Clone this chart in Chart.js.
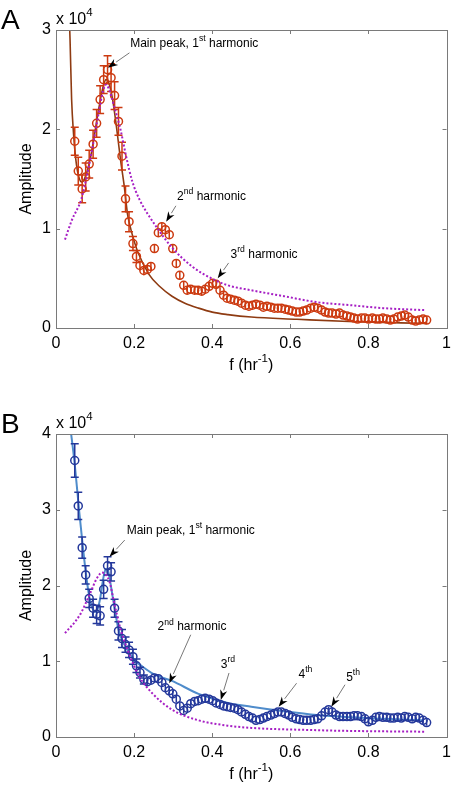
<!DOCTYPE html>
<html>
<head>
<meta charset="utf-8">
<script src="https://cdn.jsdelivr.net/npm/chart.js@4"></script>
<style>
body { margin: 0; background: #fff; }
canvas { position: absolute; left: 0; }
#chartA { top: 0; }
#chartB { top: 395px; }
</style>
</head>
<body>
<canvas id="chartA" width="457" height="395"></canvas>
<canvas id="chartB" width="457" height="392"></canvas>
<script>
// frequency grid of the measured spectra (hr^-1)
const freq = [
    0.048, 0.057, 0.067, 0.076, 0.085, 0.095, 0.104, 0.113, 0.122, 0.132,
    0.141, 0.150, 0.160, 0.169, 0.178, 0.187, 0.197, 0.206, 0.215, 0.225,
    0.234, 0.243, 0.252, 0.262, 0.271, 0.280, 0.290, 0.299, 0.308, 0.317,
    0.327, 0.336, 0.345, 0.355, 0.364, 0.373, 0.382, 0.392, 0.401, 0.410,
    0.420, 0.429, 0.438, 0.447, 0.457, 0.466, 0.475, 0.485, 0.494, 0.503,
    0.512, 0.522, 0.531, 0.540, 0.550, 0.559, 0.568, 0.577, 0.587, 0.596,
    0.605, 0.615, 0.624, 0.633, 0.642, 0.652, 0.661, 0.670, 0.680, 0.689,
    0.698, 0.707, 0.717, 0.726, 0.735, 0.745, 0.754, 0.763, 0.772, 0.782,
    0.791, 0.800, 0.810, 0.819, 0.828, 0.837, 0.847, 0.856, 0.865, 0.875,
    0.884, 0.893, 0.902, 0.912, 0.921, 0.930, 0.940, 0.949
];

// panel A, amplitude x 10^4
const ampA = [
    1.88, 1.58, 1.40, 1.52, 1.65, 1.85, 2.06, 2.30, 2.50, 2.60,
    2.52, 2.34, 2.08, 1.73, 1.30, 1.07, 0.85, 0.72, 0.63, 0.58,
    0.59, 0.62, 0.80, 0.96, 1.02, 0.99, 0.94, 0.80, 0.65, 0.53,
    0.43, 0.38, 0.39, 0.38, 0.38, 0.37, 0.39, 0.42, 0.45, 0.44,
    0.38, 0.33, 0.30, 0.29, 0.28, 0.27, 0.25, 0.23, 0.22, 0.23,
    0.24, 0.23, 0.21, 0.22, 0.21, 0.20, 0.20, 0.20, 0.19, 0.18,
    0.17, 0.16, 0.16, 0.17, 0.18, 0.20, 0.21, 0.20, 0.18, 0.16,
    0.15, 0.15, 0.14, 0.15, 0.13, 0.12, 0.11, 0.10, 0.09, 0.10,
    0.10, 0.09, 0.10, 0.09, 0.09, 0.10, 0.09, 0.08, 0.09, 0.11,
    0.12, 0.13, 0.11, 0.08, 0.07, 0.08, 0.09, 0.08
];
const errA = [
    0.14, 0.14, 0.14, 0.14, 0.14, 0.14, 0.14, 0.14, 0.14, 0.14,
    0.14, 0.14, 0.14, 0.14, 0.13, 0.10, 0.07, 0.06, 0.05, 0.05,
    0.04, 0.04, 0.04, 0.04, 0.04, 0.04, 0.04, 0.04, 0.04, 0.04,
    0.04, 0.04, 0.04, 0.04, 0.04, 0.04, 0.04, 0.04, 0.04, 0.04,
    0.03, 0.03, 0.03, 0.03, 0.03, 0.03, 0.03, 0.03, 0.03, 0.03,
    0.03, 0.03, 0.03, 0.03, 0.03, 0.03, 0.03, 0.03, 0.03, 0.03,
    0.03, 0.03, 0.03, 0.03, 0.03, 0.03, 0.03, 0.03, 0.03, 0.03,
    0.03, 0.03, 0.03, 0.03, 0.03, 0.03, 0.03, 0.03, 0.03, 0.03,
    0.03, 0.03, 0.03, 0.03, 0.03, 0.03, 0.03, 0.03, 0.03, 0.03,
    0.03, 0.03, 0.03, 0.03, 0.03, 0.03, 0.03, 0.03
];
// fitted curve (solid) and model curve (dotted), panel A
const fitAf = [0.030, 0.036, 0.040, 0.045, 0.050, 0.055, 0.060, 0.065, 0.070, 0.080, 0.090, 0.100, 0.110, 0.120, 0.128, 0.135, 0.145, 0.155, 0.165, 0.175, 0.183, 0.190, 0.196, 0.210, 0.238, 0.265, 0.297, 0.330, 0.365, 0.400, 0.440, 0.500, 0.617, 0.750, 0.950];
const fitAy = [3.60, 2.90, 2.30, 1.95, 1.72, 1.58, 1.50, 1.47, 1.48, 1.58, 1.75, 1.98, 2.22, 2.42, 2.50, 2.47, 2.30, 2.02, 1.70, 1.42, 1.15, 1.02, 0.93, 0.76, 0.54, 0.42, 0.32, 0.25, 0.20, 0.16, 0.135, 0.11, 0.088, 0.065, 0.045];
const modAf = [0.023, 0.040, 0.065, 0.080, 0.095, 0.110, 0.120, 0.128, 0.136, 0.149, 0.165, 0.180, 0.195, 0.213, 0.255, 0.297, 0.348, 0.398, 0.440, 0.500, 0.584, 0.668, 0.753, 0.837, 0.943];
const modAy = [0.89, 1.08, 1.30, 1.55, 1.85, 2.18, 2.38, 2.45, 2.40, 2.23, 2.00, 1.72, 1.48, 1.30, 1.03, 0.81, 0.62, 0.50, 0.43, 0.38, 0.32, 0.26, 0.23, 0.20, 0.18];

// panel B, amplitude x 10^4
const ampB = [
    3.65, 3.05, 2.50, 2.14, 1.83, 1.70, 1.62, 1.60, 1.95, 2.26,
    2.18, 1.70, 1.40, 1.30, 1.22, 1.15, 1.06, 0.94, 0.85, 0.76,
    0.73, 0.75, 0.78, 0.77, 0.72, 0.65, 0.61, 0.57, 0.50, 0.41,
    0.35, 0.38, 0.44, 0.47, 0.48, 0.50, 0.51, 0.50, 0.48, 0.45,
    0.43, 0.41, 0.40, 0.39, 0.38, 0.36, 0.33, 0.30, 0.27, 0.25,
    0.22, 0.23, 0.25, 0.27, 0.29, 0.31, 0.33, 0.33, 0.31, 0.29,
    0.26, 0.24, 0.23, 0.22, 0.22, 0.22, 0.23, 0.24, 0.28, 0.33,
    0.36, 0.33, 0.29, 0.27, 0.27, 0.27, 0.27, 0.28, 0.28, 0.27,
    0.24, 0.20, 0.22, 0.26, 0.27, 0.26, 0.26, 0.25, 0.25, 0.26,
    0.25, 0.27, 0.26, 0.24, 0.26, 0.25, 0.22, 0.19
];
const errB = [
    0.22, 0.18, 0.14, 0.12, 0.12, 0.12, 0.12, 0.12, 0.12, 0.12,
    0.12, 0.12, 0.12, 0.12, 0.10, 0.10, 0.10, 0.09, 0.07, 0.06,
    0.04, 0.04, 0.04, 0.04, 0.04, 0.04, 0.04, 0.04, 0.04, 0.04,
    0.04, 0.04, 0.04, 0.04, 0.04, 0.04, 0.04, 0.04, 0.04, 0.04,
    0.04, 0.04, 0.04, 0.04, 0.04, 0.04, 0.04, 0.04, 0.04, 0.04,
    0.04, 0.04, 0.04, 0.04, 0.04, 0.04, 0.04, 0.04, 0.04, 0.04,
    0.04, 0.04, 0.04, 0.04, 0.04, 0.04, 0.04, 0.04, 0.04, 0.04,
    0.04, 0.04, 0.04, 0.04, 0.04, 0.04, 0.04, 0.04, 0.04, 0.04,
    0.04, 0.04, 0.04, 0.04, 0.04, 0.04, 0.04, 0.04, 0.04, 0.04,
    0.04, 0.04, 0.04, 0.04, 0.04, 0.04, 0.04, 0.04
];
const fitBf = [0.036, 0.040, 0.048, 0.059, 0.069, 0.078, 0.086, 0.095, 0.103, 0.112, 0.122, 0.128, 0.134, 0.142, 0.150, 0.160, 0.170, 0.180, 0.190, 0.200, 0.221, 0.250, 0.297, 0.365, 0.440, 0.500, 0.584, 0.668, 0.753, 0.837, 0.940];
const fitBy = [4.10, 3.95, 3.60, 3.00, 2.50, 2.10, 1.83, 1.68, 1.65, 1.80, 2.12, 2.22, 2.18, 1.95, 1.70, 1.42, 1.27, 1.18, 1.10, 1.02, 0.93, 0.83, 0.74, 0.57, 0.45, 0.40, 0.34, 0.29, 0.26, 0.24, 0.22];
const modBf = [0.023, 0.061, 0.086, 0.105, 0.118, 0.128, 0.137, 0.149, 0.166, 0.187, 0.213, 0.246, 0.297, 0.365, 0.440, 0.500, 0.668, 0.753, 0.943];
const modBy = [1.37, 1.61, 1.88, 2.10, 2.17, 2.14, 2.05, 1.77, 1.41, 1.10, 0.80, 0.58, 0.36, 0.22, 0.15, 0.12, 0.09, 0.08, 0.07];

const xTicks = [0, 0.2, 0.4, 0.6, 0.8, 1];

const FONT = '"Liberation Sans", Arial, Helvetica, sans-serif';

function pairs(xs, ys) {
    return xs.map((v, i) => ({ x: v, y: ys[i] }));
}

// texts placed in data coordinates: [f, amplitude]
const panels = {
    chartA: {
        letter: "A",
        notes: [
            { parts: [["Main peak, 1", 0], ["st", 1], [" harmonic", 0]], at: [0.19, 2.86], tail: [0.188, 2.77], tip: [0.133, 2.62] },
            { parts: [["2", 0], ["nd", 1], [" harmonic", 0]], at: [0.31, 1.32], tail: [0.307, 1.23], tip: [0.282, 1.07] },
            { parts: [["3", 0], ["rd", 1], [" harmonic", 0]], at: [0.447, 0.74], tail: [0.442, 0.655], tip: [0.414, 0.50] }
        ]
    },
    chartB: {
        letter: "B",
        notes: [
            { parts: [["Main peak, 1", 0], ["st", 1], [" harmonic", 0]], at: [0.181, 2.73], tail: [0.176, 2.60], tip: [0.137, 2.38] },
            { parts: [["2", 0], ["nd", 1], [" harmonic", 0]], at: [0.26, 1.45], tail: [0.345, 1.35], tip: [0.29, 0.71] },
            { parts: [["3", 0], ["rd", 1]], at: [0.422, 0.95], tail: [0.443, 0.845], tip: [0.422, 0.49] },
            { parts: [["4", 0], ["th", 1]], at: [0.621, 0.82], tail: [0.616, 0.71], tip: [0.57, 0.40] },
            { parts: [["5", 0], ["th", 1]], at: [0.743, 0.78], tail: [0.74, 0.69], tip: [0.705, 0.40] }
        ]
    }
};

// text with superscripts, left aligned, vertically centred on y
function richText(ctx, parts, x, y, size) {
    let cx = x;
    ctx.textAlign = "left";
    ctx.textBaseline = "middle";
    parts.forEach(([s, sup]) => {
        const fs = sup ? size * 0.72 : size;
        ctx.font = fs + "px " + FONT;
        ctx.fillText(s, cx, sup ? y - size * 0.42 : y);
        cx += ctx.measureText(s).width;
    });
    return cx - x;
}

function textWidth(ctx, parts, size) {
    let w = 0;
    parts.forEach(([s, sup]) => {
        ctx.font = (sup ? size * 0.72 : size) + "px " + FONT;
        w += ctx.measureText(s).width;
    });
    return w;
}

function arrow(ctx, x0, y0, x1, y1) {
    const ang = Math.atan2(y1 - y0, x1 - x0);
    const len = 10, half = 3.6;
    const bx = x1 - len * Math.cos(ang), by = y1 - len * Math.sin(ang);
    ctx.strokeStyle = "#555";
    ctx.lineWidth = 0.8;
    ctx.beginPath();
    ctx.moveTo(x0, y0);
    ctx.lineTo(bx, by);
    ctx.stroke();
    ctx.fillStyle = "#000";
    ctx.beginPath();
    ctx.moveTo(x1, y1);
    ctx.lineTo(bx + half * Math.sin(ang), by - half * Math.cos(ang));
    ctx.lineTo(x1 - 0.7 * len * Math.cos(ang), y1 - 0.7 * len * Math.sin(ang));
    ctx.lineTo(bx - half * Math.sin(ang), by + half * Math.cos(ang));
    ctx.closePath();
    ctx.fill();
}

const decorate = {
    id: "decorate",
    // error bars, drawn with the points they belong to
    afterDatasetDraw(chart, args) {
        const ds = chart.data.datasets[args.index];
        if (!ds.errors) return;
        const ctx = chart.ctx, y = chart.scales.y;
        ctx.save();
        ctx.strokeStyle = ds.borderColor;
        ctx.lineWidth = 1.5;
        args.meta.data.forEach((pt, i) => {
            const v = ds.data[i].y, e = ds.errors[i];
            const top = y.getPixelForValue(v + e), bot = y.getPixelForValue(v - e);
            ctx.beginPath();
            ctx.moveTo(pt.x, top); ctx.lineTo(pt.x, bot);
            if (e > 0.05) {
                ctx.moveTo(pt.x - 4, top); ctx.lineTo(pt.x + 4, top);
                ctx.moveTo(pt.x - 4, bot); ctx.lineTo(pt.x + 4, bot);
            }
            ctx.stroke();
        });
        ctx.restore();
    },
    afterDraw(chart) {
        const { ctx, chartArea: a, scales: { x, y } } = chart;
        const p = panels[chart.canvas.id];
        ctx.save();

        // box with inward ticks
        ctx.strokeStyle = "#7a7a7a";
        ctx.lineWidth = 1;
        ctx.strokeRect(Math.round(a.left) + 0.5, Math.round(a.top) + 0.5, Math.round(a.right - a.left), Math.round(a.bottom - a.top));
        ctx.beginPath();
        x.ticks.forEach(t => {
            const px = Math.round(x.getPixelForValue(t.value)) + 0.5;
            ctx.moveTo(px, a.bottom); ctx.lineTo(px, a.bottom - 4);
            ctx.moveTo(px, a.top); ctx.lineTo(px, a.top + 4);
        });
        y.ticks.forEach(t => {
            const py = Math.round(y.getPixelForValue(t.value)) + 0.5;
            ctx.moveTo(a.left, py); ctx.lineTo(a.left + 4, py);
            ctx.moveTo(a.right, py); ctx.lineTo(a.right - 4, py);
        });
        ctx.stroke();

        ctx.fillStyle = "#000";
        // panel letter
        ctx.font = "28px " + FONT;
        ctx.textAlign = "left";
        ctx.textBaseline = "alphabetic";
        ctx.fillText(p.letter, 1, a.top - 1);

        // exponent
        richText(ctx, [["x 10", 0], ["4", 1]], a.left, a.top - 10, 16);

        // axis titles
        const xt = [["f (hr", 0], ["-1", 1], [")", 0]];
        const w = textWidth(ctx, xt, 16);
        ctx.fillStyle = "#000";
        richText(ctx, xt, (a.left + a.right) / 2 - w / 2, a.bottom + 38, 16);
        ctx.save();
        ctx.translate(27, (a.top + a.bottom) / 2);
        ctx.rotate(-Math.PI / 2);
        ctx.font = "16px " + FONT;
        ctx.textAlign = "center";
        ctx.textBaseline = "middle";
        ctx.fillText("Amplitude", 0, 0);
        ctx.restore();

        // annotations
        p.notes.forEach(n => {
            ctx.fillStyle = "#000";
            richText(ctx, n.parts, x.getPixelForValue(n.at[0]), y.getPixelForValue(n.at[1]), 12);
            arrow(ctx, x.getPixelForValue(n.tail[0]), y.getPixelForValue(n.tail[1]),
                x.getPixelForValue(n.tip[0]), y.getPixelForValue(n.tip[1]));
        });
        ctx.restore();
    }
};

function makeChart(id, yMax, top, xHeight, cfg) {
    return new Chart(document.getElementById(id), {
        type: "scatter",
        data: {
            datasets: [
                {
                    type: "line",
                    data: cfg.model,
                    borderColor: "#a61fc4",
                    borderWidth: 2,
                    borderDash: [2, 2],
                    pointRadius: 0,
                    cubicInterpolationMode: "monotone",
                    fill: false
                },
                {
                    data: cfg.points,
                    errors: cfg.errors,
                    borderColor: cfg.pointColor,
                    backgroundColor: "rgba(0,0,0,0)",
                    borderWidth: 1.5,
                    pointRadius: 4,
                    showLine: false
                },
                {
                    type: "line",
                    data: cfg.fit,
                    borderColor: cfg.fitColor,
                    borderWidth: cfg.fitWidth,
                    pointRadius: 0,
                    cubicInterpolationMode: "monotone",
                    fill: false
                }
            ]
        },
        options: {
            responsive: false,
            animation: false,
            layout: { padding: { top: top, right: 7, left: 0, bottom: 0 } },
            plugins: { legend: { display: false }, tooltip: { enabled: false } },
            scales: {
                x: {
                    type: "linear",
                    min: 0,
                    max: 1,
                    afterFit: s => { s.height = xHeight; },
                    afterBuildTicks: s => { s.ticks = xTicks.map(v => ({ value: v })); },
                    border: { display: false },
                    grid: { display: false, drawTicks: false },
                    ticks: {
                        padding: 6,
                        color: "#000",
                        maxRotation: 0,
                        autoSkip: false,
                        font: { family: FONT, size: 16 },
                        callback: v => String(+v.toFixed(1))
                    }
                },
                y: {
                    min: 0,
                    max: yMax,
                    afterFit: s => { s.width = 56; },
                    border: { display: false },
                    grid: { display: false, drawTicks: false },
                    ticks: {
                        stepSize: 1,
                        padding: 5,
                        color: "#000",
                        font: { family: FONT, size: 16 }
                    }
                }
            }
        },
        plugins: [decorate]
    });
}

makeChart("chartA", 3, 30, 67, {
    points: pairs(freq, ampA),
    errors: errA,
    pointColor: "#cc3a10",
    fit: pairs(fitAf, fitAy),
    fitColor: "#8e3b12",
    fitWidth: 1.6,
    model: pairs(modAf, modAy)
});

makeChart("chartB", 4, 39, 50, {
    points: pairs(freq, ampB),
    errors: errB,
    pointColor: "#24389b",
    fit: pairs(fitBf, fitBy),
    fitColor: "#4f8ccb",
    fitWidth: 2,
    model: pairs(modBf, modBy)
});
</script>
</body>
</html>
